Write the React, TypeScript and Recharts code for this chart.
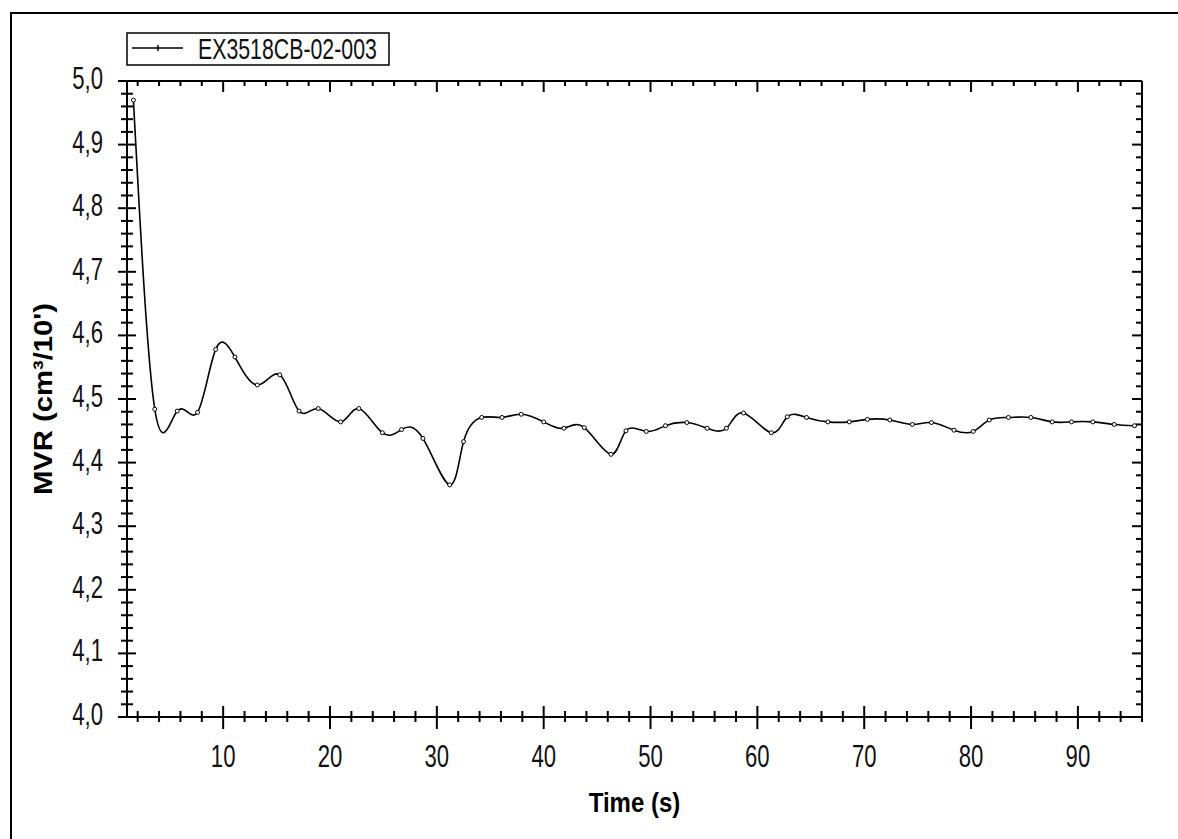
import { LineChart, Line, XAxis, YAxis, Legend, Label } from "recharts";

// MVR readings of one run, sampled roughly every 2 s
const seriesName = "EX3518CB-02-003";
const timeS = [
  1.6, 3.6, 5.7, 7.6, 9.3, 11.1, 13.2, 15.3, 17.1, 18.9, 21.0, 22.7, 24.9, 26.7,
  28.7, 31.2, 32.5, 34.2, 36.1, 37.9, 40.0, 41.9, 43.8, 46.3, 47.7, 49.6, 51.4,
  53.4, 55.3, 57.1, 58.7, 61.3, 62.8, 64.6, 66.6, 68.6, 70.3, 72.4, 74.5, 76.3,
  78.4, 80.2, 81.7, 83.5, 85.6, 87.6, 89.4, 91.4, 93.4, 95.3,
];
const mvrValues = [
  4.97, 4.484, 4.481, 4.479, 4.578, 4.566, 4.522, 4.538, 4.481, 4.485, 4.464,
  4.485, 4.447, 4.452, 4.438, 4.365, 4.433, 4.471, 4.471, 4.476, 4.464, 4.454,
  4.455, 4.413, 4.45, 4.449, 4.458, 4.463, 4.454, 4.454, 4.478, 4.447, 4.472,
  4.471, 4.464, 4.464, 4.468, 4.467, 4.46, 4.463, 4.451, 4.449, 4.467, 4.471,
  4.471, 4.464, 4.464, 4.464, 4.46, 4.458,
];

const xDomain = [1, 96];
const yDomain = [4, 5];
const xMajorTicks = [10, 20, 30, 40, 50, 60, 70, 80, 90];

// minor ticks: every 2 s on x, every 0.02 on y
const xTicks = Array.from({ length: 48 }, (_, i) => (i + 1) * 2);
const yTicks = Array.from({ length: 51 }, (_, i) => Math.round(400 + i * 2) / 100);

const data = timeS.map((t, i) => ({ time: t, mvr: mvrValues[i] }));

const FONT = "'Liberation Sans', Arial, sans-serif";
const INK = "#000";

const isMajorX = (v: number) => xMajorTicks.includes(v);
const isMajorY = (v: number) => Math.round(v * 100) % 10 === 0;

const BottomTick = (props: any) => {
  const { x, y, payload } = props;
  const major = isMajorX(payload.value);
  return (
    <g>
      <line x1={x} x2={x} y1={y - (major ? 11 : 6)} y2={y + (major ? 12 : 5)} stroke={INK} strokeWidth={2} />
      {major && (
        <text
          transform={`translate(${x},${y + 50}) scale(0.82,1.17)`}
          textAnchor="middle"
          fontFamily={FONT}
          fontSize={27}
          fill="#111"
        >
          {payload.value}
        </text>
      )}
    </g>
  );
};

const TopTick = (props: any) => {
  const { x, y, payload } = props;
  const major = isMajorX(payload.value);
  return <line x1={x} x2={x} y1={y} y2={y + (major ? 11 : 5)} stroke={INK} strokeWidth={2} />;
};

const LeftTick = (props: any) => {
  const { x, y, payload } = props;
  const major = isMajorY(payload.value);
  return (
    <g>
      <line x1={x - (major ? 9 : 6)} x2={x + (major ? 9 : 6)} y1={y} y2={y} stroke={INK} strokeWidth={2} />
      {major && (
        <text
          transform={`translate(${x - 24},${y + 8}) scale(0.82,1.17)`}
          textAnchor="end"
          fontFamily={FONT}
          fontSize={27}
          fill="#111"
        >
          {payload.value.toFixed(1).replace(".", ",")}
        </text>
      )}
    </g>
  );
};

const RightTick = (props: any) => {
  const { x, y, payload } = props;
  const major = isMajorY(payload.value);
  return <line x1={x} x2={x - (major ? 10 : 6)} y1={y} y2={y} stroke={INK} strokeWidth={2} />;
};

const XTitle = (props: any) => {
  const { x, y, width } = props.viewBox;
  return (
    <text
      transform={`translate(${x + width / 2},${y + 95}) scale(1,1.17)`}
      textAnchor="middle"
      fontFamily={FONT}
      fontWeight="bold"
      fontSize={24}
      fill={INK}
    >
      Time (s)
    </text>
  );
};

const YTitle = (props: any) => {
  const { x, y, height } = props.viewBox;
  return (
    <text
      transform={`translate(${x - 74},${y + height / 2}) rotate(-90) scale(1.17,1)`}
      textAnchor="middle"
      fontFamily={FONT}
      fontWeight="bold"
      fontSize={25}
      fill={INK}
    >
      MVR (cm³/10')
    </text>
  );
};

const LegendBox = (props: any) => {
  const name = props.payload?.[0]?.value ?? seriesName;
  return (
    <svg width={264} height={34} style={{ display: "block" }}>
      <rect x={1} y={1} width={262} height={32} fill="#fff" stroke={INK} strokeWidth={1.5} />
      <line x1={6} x2={57} y1={16} y2={16} stroke={INK} strokeWidth={1.5} />
      <line x1={32} x2={32} y1={13} y2={19} stroke={INK} strokeWidth={1.5} />
      <text
        transform="translate(72,27) scale(0.82,1.17)"
        fontFamily={FONT}
        fontSize={26}
        fill="#111"
      >
        {name}
      </text>
    </svg>
  );
};

export default function App() {
  return (
    <div
      style={{
        position: "absolute",
        left: 0,
        top: 0,
        width: 1178,
        height: 839,
        background: "#fff",
        overflow: "hidden",
      }}
    >
      {/* outer frame of the exported picture: only its top and left edges are in view */}
      <svg width={1178} height={839} style={{ position: "absolute", left: 0, top: 0 }}>
        <line x1={10} x2={1178} y1={13} y2={13} stroke={INK} strokeWidth={2} />
        <line x1={11} x2={11} y1={12} y2={839} stroke={INK} strokeWidth={2} />
      </svg>
      <LineChart
        width={1178}
        height={839}
        data={data}
        margin={{ top: 80, right: 35, bottom: 121, left: 126 }}
        style={{ position: "absolute", left: 0, top: 0 }}
      >
        <XAxis
          dataKey="time"
          type="number"
          domain={xDomain}
          ticks={xTicks}
          interval={0}
          height={1}
          tickSize={0}
          tickMargin={0}
          tickLine={false}
          tick={<BottomTick />}
          axisLine={{ stroke: INK, strokeWidth: 2 }}
          allowDataOverflow
        >
          <Label content={<XTitle />} />
        </XAxis>
        <XAxis
          xAxisId="top"
          orientation="top"
          dataKey="time"
          type="number"
          domain={xDomain}
          ticks={xTicks}
          interval={0}
          height={1}
          tickSize={0}
          tickMargin={0}
          tickLine={false}
          tick={<TopTick />}
          axisLine={{ stroke: INK, strokeWidth: 2 }}
          allowDataOverflow
        />
        <YAxis
          type="number"
          domain={yDomain}
          ticks={yTicks}
          interval={0}
          width={1}
          tickSize={0}
          tickMargin={0}
          tickLine={false}
          tick={<LeftTick />}
          axisLine={{ stroke: INK, strokeWidth: 2 }}
          allowDataOverflow
        >
          <Label content={<YTitle />} />
        </YAxis>
        <YAxis
          yAxisId="right"
          orientation="right"
          type="number"
          domain={yDomain}
          ticks={yTicks}
          interval={0}
          width={1}
          tickSize={0}
          tickMargin={0}
          tickLine={false}
          tick={<RightTick />}
          axisLine={{ stroke: INK, strokeWidth: 2 }}
          allowDataOverflow
        />
        <Legend
          layout="vertical"
          align="center"
          verticalAlign="middle"
          content={<LegendBox />}
          wrapperStyle={{ position: "absolute", left: 126, top: 32, width: 264, height: 34 }}
        />
        <Line
          type="natural"
          dataKey="mvr"
          name={seriesName}
          stroke={INK}
          strokeWidth={1.6}
          dot={{ r: 2, stroke: INK, strokeWidth: 1, fill: "#fff" }}
          activeDot={false}
          isAnimationActive={false}
        />
      </LineChart>
    </div>
  );
}
